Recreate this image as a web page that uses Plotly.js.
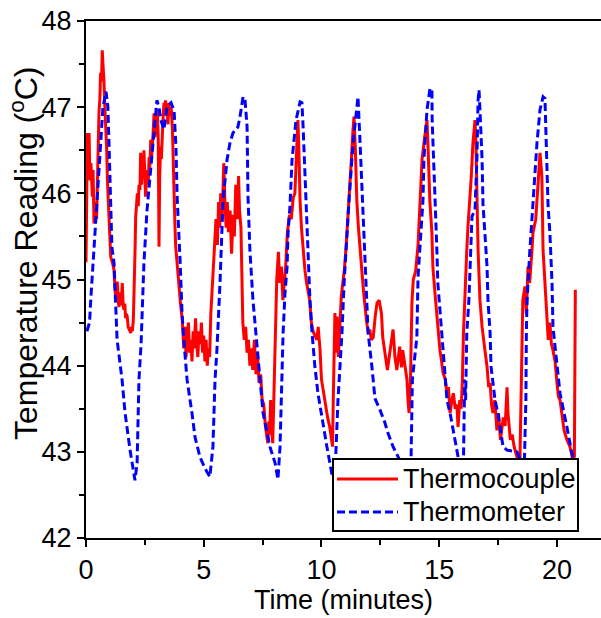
<!DOCTYPE html>
<html>
<head>
<meta charset="utf-8">
<script src="https://cdn.plot.ly/plotly-3.0.1.min.js"></script>
<style>html,body{margin:0;padding:0;background:#fff;}#chart{width:601px;height:618px;}</style>
</head>
<body>
<div id="chart"></div>
<script>
// Thermocouple (red, solid)
const tcTime = [0.00,0.03,0.06,0.10,0.13,0.17,0.21,0.27,0.30,0.34,0.38,0.41,0.45,0.48,0.52,0.55,0.59,0.62,0.66,0.69,0.73,0.76,0.80,0.84,0.88,0.91,0.95,0.98,1.02,1.05,1.12,1.19,1.23,1.26,1.30,1.33,1.37,1.40,1.44,1.47,1.51,1.54,1.58,1.61,1.65,1.68,1.72,1.75,1.79,1.83,1.86,1.90,1.94,1.97,2.01,2.04,2.08,2.11,2.15,2.18,2.22,2.25,2.29,2.32,2.36,2.39,2.43,2.46,2.50,2.53,2.57,2.60,2.64,2.68,2.71,2.75,2.78,2.82,2.85,2.89,2.92,2.96,2.99,3.03,3.07,3.10,3.13,3.17,3.20,3.24,3.27,3.31,3.34,3.38,3.41,3.45,3.48,3.52,3.56,3.60,3.63,3.67,3.71,3.74,3.78,3.81,3.85,3.88,3.92,3.95,4.02,4.09,4.15,4.20,4.25,4.30,4.35,4.40,4.45,4.50,4.55,4.60,4.65,4.70,4.75,4.80,4.85,4.90,4.95,5.00,5.05,5.10,5.15,5.20,5.25,5.30,5.38,5.45,5.52,5.58,5.63,5.68,5.72,5.78,5.85,5.90,5.95,6.00,6.05,6.12,6.18,6.25,6.30,6.36,6.42,6.48,6.52,6.58,6.62,6.66,6.72,6.78,6.84,6.90,6.96,7.02,7.08,7.15,7.22,7.28,7.35,7.42,7.48,7.55,7.62,7.68,7.72,7.76,7.80,7.84,7.88,7.93,7.98,8.03,8.10,8.17,8.23,8.30,8.36,8.42,8.48,8.55,8.64,8.72,8.80,8.87,8.92,8.96,9.00,9.04,9.09,9.15,9.22,9.30,9.37,9.44,9.50,9.57,9.64,9.72,9.80,9.86,9.94,10.00,10.08,10.16,10.26,10.35,10.42,10.47,10.50,10.53,10.57,10.62,10.66,10.72,10.79,10.84,10.90,10.97,11.05,11.12,11.20,11.27,11.33,11.38,11.44,11.50,11.57,11.63,11.72,11.79,11.85,11.92,11.99,12.05,12.12,12.20,12.28,12.36,12.45,12.55,12.60,12.69,12.80,12.90,13.04,13.12,13.20,13.32,13.40,13.45,13.54,13.63,13.68,13.72,13.78,13.84,13.90,14.00,14.10,14.18,14.27,14.38,14.48,14.52,14.56,14.60,14.69,14.73,14.82,14.90,14.97,15.03,15.10,15.16,15.25,15.33,15.39,15.46,15.54,15.60,15.68,15.75,15.80,15.87,15.93,15.98,16.03,16.10,16.17,16.22,16.31,16.36,16.43,16.52,16.56,16.60,16.65,16.73,16.82,16.94,17.03,17.10,17.16,17.22,17.28,17.36,17.45,17.52,17.60,17.72,17.80,17.88,17.92,18.02,18.10,18.18,18.30,18.43,18.47,18.51,18.55,18.64,18.70,18.77,18.84,18.94,18.98,19.10,19.20,19.28,19.33,19.36,19.41,19.49,19.58,19.63,19.70,19.76,19.83,19.92,20.00,20.06,20.13,20.22,20.30,20.42,20.55,20.68,20.74,20.78];
const tcTemp = [45.20,45.90,46.70,46.20,46.70,46.15,46.35,45.96,46.27,45.65,45.85,45.90,45.70,46.15,46.50,46.93,47.10,47.40,47.30,47.66,47.45,47.32,47.00,46.82,46.50,46.15,45.90,45.58,45.40,45.26,45.20,45.11,44.90,44.80,44.96,44.96,44.75,44.68,44.85,44.70,44.80,44.96,44.70,44.65,44.72,44.55,44.60,44.57,44.45,44.42,44.40,44.38,44.45,44.40,44.53,44.80,45.30,45.73,45.90,46.00,45.85,46.10,46.04,46.47,46.10,46.27,46.20,46.50,46.20,45.96,46.15,46.27,46.10,46.42,46.30,46.62,46.40,46.54,46.70,46.93,46.65,46.74,46.85,46.97,46.60,45.38,46.20,46.54,46.40,46.74,46.85,47.05,46.95,47.08,46.90,46.97,46.80,47.05,46.90,47.00,46.95,46.74,46.27,45.77,45.60,45.38,45.25,45.11,45.00,44.88,44.70,44.53,44.20,44.45,44.10,44.35,44.50,44.15,44.30,44.05,44.40,44.20,44.55,44.25,44.10,44.40,44.25,44.50,44.15,44.35,44.05,44.30,44.00,44.20,44.10,44.60,45.00,45.50,45.70,45.40,45.90,45.60,46.00,45.70,46.35,45.90,45.60,45.90,45.55,45.80,45.30,45.75,45.50,46.10,45.70,46.20,45.80,45.60,45.00,44.50,44.30,44.45,44.15,44.30,44.00,44.20,43.95,44.30,43.90,44.15,43.80,43.90,43.60,43.55,43.30,43.15,43.10,43.35,43.20,43.60,43.25,43.10,43.70,44.50,45.00,45.32,44.96,45.15,44.76,44.96,45.15,45.54,45.75,45.70,45.95,46.00,46.40,46.70,46.85,46.50,45.92,45.60,45.34,45.10,44.96,44.85,44.76,44.50,44.40,44.35,44.30,44.45,44.18,43.84,43.70,43.57,43.40,43.29,43.15,43.06,43.60,44.30,44.61,44.15,44.57,44.10,44.50,44.80,44.95,45.11,45.40,45.70,46.00,46.40,46.70,46.89,46.50,45.92,45.60,45.34,45.08,44.85,44.65,44.50,44.38,44.42,44.30,44.33,44.57,44.73,44.76,44.60,44.33,44.15,43.95,44.15,44.42,44.10,43.95,44.22,43.98,44.18,43.98,43.84,43.57,43.45,43.84,44.73,45.00,45.10,45.40,45.80,46.39,46.65,46.85,46.58,46.20,45.92,45.54,45.15,44.84,44.57,44.38,44.18,44.05,43.92,43.85,43.68,43.75,43.45,43.60,43.68,43.50,43.55,43.29,43.60,43.50,43.80,44.38,44.96,45.34,45.61,45.92,46.19,46.58,46.85,46.58,45.81,45.34,44.76,44.45,44.18,43.99,43.75,43.80,43.55,43.45,43.60,43.25,43.45,43.14,43.40,43.30,43.75,43.45,43.14,43.20,43.06,42.94,42.94,43.60,44.38,44.76,44.92,44.60,45.15,44.96,45.34,45.54,45.70,46.12,46.47,46.30,46.19,45.34,44.96,44.45,44.30,44.50,44.26,44.18,44.05,43.80,43.64,43.60,43.40,43.25,43.14,43.06,42.90,42.95,44.88];

// Thermometer (blue, dashed)
const tmTime = [0.04,0.15,0.21,0.34,0.47,0.64,0.72,0.85,0.93,0.98,1.06,1.10,1.19,1.27,1.32,1.53,1.66,1.87,2.00,2.08,2.17,2.25,2.34,2.46,2.59,2.76,2.89,3.01,3.10,3.18,3.31,3.44,3.61,3.74,3.82,3.87,4.00,4.08,4.16,4.29,4.50,4.63,4.84,5.05,5.26,5.39,5.48,5.56,5.69,5.77,5.82,5.99,6.11,6.24,6.45,6.54,6.67,6.75,6.84,6.88,6.96,7.09,7.26,7.39,7.52,7.81,8.03,8.15,8.24,8.32,8.37,8.45,8.54,8.58,8.66,8.75,8.92,9.09,9.17,9.22,9.30,9.39,9.43,9.51,9.60,9.72,9.85,9.98,10.23,10.45,10.57,10.70,10.87,10.96,11.08,11.17,11.34,11.51,11.55,11.64,11.72,11.85,11.93,11.98,12.14,12.27,12.48,12.69,12.82,13.04,13.33,13.50,13.65,13.80,13.86,14.05,14.10,14.18,14.31,14.35,14.48,14.61,14.69,14.70,14.75,14.82,14.90,14.94,15.03,15.12,15.24,15.33,15.46,15.67,15.84,15.95,16.03,16.08,16.12,16.17,16.26,16.30,16.39,16.52,16.60,16.65,16.69,16.73,16.82,16.86,17.03,17.07,17.16,17.20,17.28,17.37,17.49,17.71,17.88,18.30,18.43,18.52,18.62,18.68,18.70,18.73,18.85,18.98,19.07,19.15,19.28,19.41,19.49,19.53,19.58,19.62,19.70,19.79,19.83,20.00,20.13,20.42,20.68,20.80];
const tmTemp = [44.40,44.50,44.80,45.38,45.96,46.65,47.00,47.18,47.00,46.54,45.77,45.38,45.19,44.73,44.30,43.84,43.45,43.02,42.80,42.67,42.87,43.84,44.26,45.19,45.80,46.35,46.74,47.08,47.00,46.85,46.74,47.00,47.05,46.96,46.54,45.96,45.19,44.60,44.28,43.84,43.45,43.17,42.94,42.81,42.71,43.06,43.84,44.18,44.96,45.54,45.92,46.39,46.58,46.70,46.77,46.89,47.12,47.10,46.77,45.96,45.34,44.76,44.18,43.84,43.45,43.06,42.87,42.68,43.06,43.84,44.38,44.84,45.15,45.54,45.84,46.39,46.85,47.06,47.05,46.77,46.19,45.60,45.15,44.76,44.38,43.99,43.68,43.45,43.06,42.73,42.70,43.60,44.38,44.96,45.54,45.92,46.58,47.05,47.12,46.58,46.07,45.34,44.76,44.38,43.99,43.62,43.49,43.34,43.22,43.06,42.90,42.75,42.70,42.85,43.84,44.33,45.03,45.34,45.92,46.39,46.97,47.22,47.20,46.85,46.39,45.95,45.34,44.96,44.65,44.30,43.87,43.60,43.45,43.14,42.92,42.72,42.90,43.84,43.60,44.38,44.76,45.15,45.73,45.81,46.39,47.08,47.20,46.97,46.39,45.87,45.15,44.76,44.38,43.99,43.80,43.60,43.45,43.06,43.02,43.00,42.92,42.75,42.92,43.60,44.38,44.76,45.34,45.92,46.19,46.58,46.97,47.12,47.10,46.77,46.19,45.87,45.54,44.96,44.45,43.99,43.68,43.29,42.92,42.80];

const seriesNames = ["Thermocouple", "Thermometer"];
const seriesColors = ["#ff0000", "#0000ff"];
const xTitle = "Time (minutes)";
const yTitle = "Temperature Reading (<sup>o</sup>C)";
const xTicks = [0, 5, 10, 15, 20];
const yTicks = [42, 43, 44, 45, 46, 47, 48];

const FONT = "Liberation Sans, Arial, sans-serif";
const BLUE_DASH = "8px,4px";

const traces = [
  {x: tcTime, y: tcTemp, name: seriesNames[0], mode: "lines", type: "scatter",
   line: {color: seriesColors[0], width: 3}},
  {x: tmTime, y: tmTemp, name: seriesNames[1], mode: "lines", type: "scatter",
   line: {color: seriesColors[1], width: 3, dash: BLUE_DASH}}
];

// Legend box drawn in paper coordinates (plot area: x 86..601 px, y 21..538 px)
const L = 86, W = 515, B = 538, H = 517;
const px = v => (v - L) / W;
const py = v => (B - v) / H;

const shapes = [
  {type: "rect", xref: "paper", yref: "paper", x0: px(333), x1: px(578), y0: py(531), y1: py(459),
   fillcolor: "#fff", line: {color: "#000", width: 2}, layer: "above"},
  {type: "line", xref: "paper", yref: "paper", x0: px(337), x1: px(398), y0: py(479), y1: py(479),
   line: {color: seriesColors[0], width: 3}, layer: "above"},
  {type: "line", xref: "paper", yref: "paper", x0: px(337), x1: px(398), y0: py(512), y1: py(512),
   line: {color: seriesColors[1], width: 3, dash: BLUE_DASH}, layer: "above"}
];

const annotations = [
  {xref: "paper", yref: "paper", x: px(401), y: py(479), xanchor: "left", yanchor: "middle",
   text: seriesNames[0], showarrow: false, font: {family: FONT, size: 27, color: "#000"}},
  {xref: "paper", yref: "paper", x: px(401), y: py(512), xanchor: "left", yanchor: "middle",
   text: seriesNames[1], showarrow: false, font: {family: FONT, size: 27, color: "#000"}},
  {xref: "paper", yref: "paper", x: px(24), y: py(253), xanchor: "center", yanchor: "middle",
   textangle: -90, text: yTitle, showarrow: false, font: {family: FONT, size: 32, color: "#000"}}
];

const layout = {
  width: 601, height: 618,
  margin: {l: 86, r: 0, t: 21, b: 80, pad: 0},
  paper_bgcolor: "#fff", plot_bgcolor: "#fff",
  font: {family: FONT, color: "#000"},
  showlegend: false,
  shapes: shapes,
  annotations: annotations,
  xaxis: {range: [0, 21.87], tickvals: xTicks, ticktext: xTicks.map(String),
    showgrid: false, zeroline: false, showline: true, linecolor: "#000", linewidth: 2,
    mirror: true, ticks: "outside", ticklen: 7, tickwidth: 2, tickcolor: "#000",
    minor: {dtick: 2.5, tick0: 0, ticks: "outside", ticklen: 5, tickwidth: 2, tickcolor: "#000", showgrid: false},
    tickfont: {family: FONT, size: 27, color: "#000"},
    title: {text: xTitle, font: {family: FONT, size: 27, color: "#000"}, standoff: 6}},
  yaxis: {range: [42, 48], tickvals: yTicks, ticktext: yTicks.map(String),
    showgrid: false, zeroline: false, showline: true, linecolor: "#000", linewidth: 2,
    mirror: false, ticks: "outside", ticklen: 7, tickwidth: 2, tickcolor: "#000",
    minor: {dtick: 0.5, tick0: 42, ticks: "outside", ticklen: 5, tickwidth: 2, tickcolor: "#000", showgrid: false},
    tickfont: {family: FONT, size: 27, color: "#000"}}
};

Plotly.newPlot("chart", traces, layout, {displayModeBar: false, staticPlot: true});
</script>
</body>
</html>
